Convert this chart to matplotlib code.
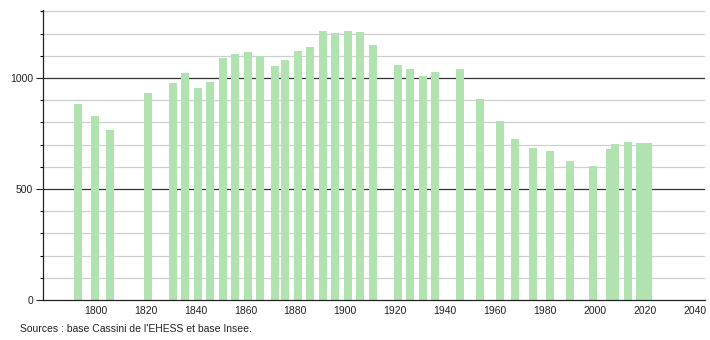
import matplotlib
matplotlib.use("Agg")
import matplotlib.pyplot as plt
from matplotlib.ticker import MultipleLocator

years = [1793, 1800, 1806, 1821, 1831, 1836, 1841, 1846, 1851, 1856, 1861, 1866,
         1872, 1876, 1881, 1886, 1891, 1896, 1901, 1906, 1911, 1921, 1926, 1931,
         1936, 1946, 1954, 1962, 1968, 1975, 1982, 1990, 1999, 2006, 2008, 2013,
         2018, 2021]
population = [883, 830, 766, 931, 976, 1022, 956, 982, 1090, 1108, 1118, 1100,
              1054, 1081, 1122, 1140, 1212, 1201, 1213, 1207, 1149, 1059, 1039, 1009,
              1028, 1041, 904, 806, 724, 685, 671, 626, 604, 679, 703, 710,
              705, 706]
xtick_years = list(range(1800, 2041, 20))
ytick_major = [0, 500, 1000]
source_text = "Sources : base Cassini de l'EHESS et base Insee."

plt.rcParams['font.family'] = ['Liberation Sans', 'DejaVu Sans']

fig = plt.figure(figsize=(7.1, 3.4), dpi=100)
ax = fig.add_axes([43/710, 1-300/340, (705-43)/710, 290/340])

ax.set_xlim(1779, 2044)
ax.set_ylim(0, 1306)

# grid lines
for v in range(100, 1301, 100):
    if v % 500 == 0:
        ax.axhline(v, color='#333333', lw=0.9, zorder=1)
    else:
        ax.axhline(v, color='#cfcfcf', lw=0.9, zorder=1)

ax.bar(years, population, width=3.2, color='#b0e3b0', zorder=2, linewidth=0)

ax.set_xticks(xtick_years)
ax.set_xticklabels([str(y) for y in xtick_years])
ax.set_yticks(ytick_major)
ax.yaxis.set_minor_locator(MultipleLocator(100))
ax.tick_params(axis='x', length=0, labelsize=7.5, pad=4, colors='#222222')
ax.tick_params(axis='y', which='major', length=5, width=0.8, labelsize=7.5, pad=2, colors='#222222')
ax.tick_params(axis='y', which='minor', length=2.5, width=0.8)

for s in ['top', 'right']:
    ax.spines[s].set_visible(False)
ax.spines['left'].set_color('#222222')
ax.spines['bottom'].set_color('#222222')
ax.spines['left'].set_linewidth(0.9)
ax.spines['bottom'].set_linewidth(0.9)

fig.text(20/710, 1-329/340, source_text, fontsize=7.5, color='#222222', va='center', ha='left')

fig.savefig('out.png', dpi=100)
